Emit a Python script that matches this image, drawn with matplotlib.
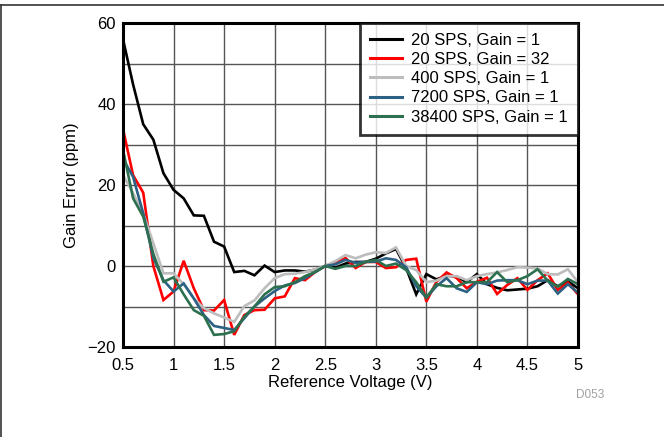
import numpy as np
import matplotlib
matplotlib.use("Agg")
import matplotlib.pyplot as plt
from matplotlib.lines import Line2D

plt.rcParams['font.family'] = ['Liberation Sans Narrow', 'Liberation Sans', 'DejaVu Sans']

voltage = [round(0.5 + 0.1 * i, 1) for i in range(46)]

sps20_g1 = [56.0, 44.8, 35.0, 31.2, 22.9, 18.8, 16.7, 12.5, 12.4, 6.0,
            4.8, -1.5, -1.2, -2.3, 0.1, -1.5, -1.1, -1.1, -1.4, -0.9,
            0.0, -0.4, 0.6, 1.0, 1.0, 1.8, 3.1, 4.2, -0.5, -7.0,
            -2.0, -3.3, -2.4, -2.6, -4.0, -2.0, -4.5, -5.4, -6.0, -5.8,
            -5.6, -5.0, -3.5, -5.0, -3.8, -5.5]
sps20_g32 = [33.8, 22.4, 18.1, 0.0, -8.4, -6.3, 1.3, -5.5, -10.9, -11.0,
             -8.4, -17.0, -12.1, -10.9, -10.8, -8.0, -7.5, -3.0, -3.5, -1.5,
             0.0, 1.0, 2.0, -0.5, 1.0, 1.0, -0.5, -0.3, 1.5, 1.8,
             -8.8, -3.9, -1.6, -3.0, -5.5, -3.9, -2.9, -6.9, -4.7, -3.0,
             -5.9, -3.5, -1.8, -5.9, -4.1, -7.0]
sps400_g1 = [22.5, 18.0, 13.0, 5.6, -1.8, -1.8, -4.5, -8.0, -10.4, -11.7,
             -12.7, -13.8, -9.9, -8.5, -5.5, -3.0, -2.0, -1.9, -1.5, -0.8,
             0.0, 1.2, 2.7, 1.9, 2.8, 3.4, 3.2, 4.6, 0.0, -1.0,
             -4.0, -3.6, -2.5, -2.5, -3.5, -2.5, -2.0, -1.6, -1.0, -0.3,
             -0.4, -0.6, -2.0, -2.1, -0.8, -4.0]
sps7200_g1 = [26.5, 22.0, 13.0, 2.0, -3.5, -6.3, -4.3, -8.0, -12.1, -14.8,
              -15.3, -15.8, -12.9, -10.0, -8.0, -6.2, -4.8, -4.2, -3.0, -1.5,
              0.0, 0.4, 1.5, 0.8, 1.0, 1.1, 1.9, 1.5, -0.3, -5.0,
              -7.8, -5.0, -3.0, -5.5, -6.4, -4.0, -4.5, -3.6, -3.5, -3.5,
              -4.5, -3.6, -3.6, -6.8, -4.5, -6.6]
sps38400_g1 = [28.7, 16.7, 12.2, 3.0, -3.9, -2.8, -7.0, -10.9, -12.3, -17.0,
               -16.8, -16.1, -12.5, -10.0, -7.0, -5.2, -5.0, -4.0, -2.5, -1.5,
               0.0, -0.7, 0.0, 0.0, 1.0, 1.5, 0.0, 0.6, -1.0, -4.0,
               -7.8, -4.5, -5.0, -5.0, -4.0, -4.0, -4.0, -1.5, -4.0, -3.5,
               -2.5, -0.8, -3.6, -5.1, -3.2, -4.5]

series = [
    ("20 SPS, Gain = 1", sps20_g1, "#000000"),
    ("20 SPS, Gain = 32", sps20_g32, "#FF0000"),
    ("400 SPS, Gain = 1", sps400_g1, "#BDBDBD"),
    ("7200 SPS, Gain = 1", sps7200_g1, "#2C6183"),
    ("38400 SPS, Gain = 1", sps38400_g1, "#2D7050"),
]

xticks = [0.5, 1, 1.5, 2, 2.5, 3, 3.5, 4, 4.5, 5]
xticklabels = ["0.5", "1", "1.5", "2", "2.5", "3", "3.5", "4", "4.5", "5"]
yticks = [-20, 0, 20, 40, 60]

fig = plt.figure(figsize=(6.64, 4.37), dpi=100)
ax = fig.add_axes([123 / 664, 1 - 347 / 437, (578 - 123) / 664, (347 - 23) / 437])

for label, vals, color in series:
    ax.plot(voltage, vals, color=color, lw=1.9, label=label, solid_joinstyle='miter')

ax.set_xlim(0.5, 5)
ax.set_ylim(-20, 60)
ax.set_xticks(xticks)
ax.set_xticklabels(xticklabels)
ax.set_yticks(yticks)
ax.set_yticks([-10, 10, 30, 50], minor=True)
ax.grid(True, which='major', color='#555555', lw=1.0)
ax.grid(True, which='minor', axis='y', color='#555555', lw=1.0)
ax.set_axisbelow(True)
ax.tick_params(which='both', length=0, labelsize=12, pad=5)
ax.tick_params(axis='x', pad=8)
for s in ax.spines.values():
    s.set_linewidth(2.2)
    s.set_color('black')

ax.set_xlabel("Reference Voltage (V)", fontsize=12, labelpad=1)
ax.set_ylabel("Gain Error (ppm)", fontsize=12, labelpad=6)

leg = ax.legend(loc='upper right', borderaxespad=0, fontsize=12, frameon=True,
                fancybox=False, handlelength=1.9, handletextpad=0.55,
                labelspacing=0.25, borderpad=0.6)
leg.get_frame().set_edgecolor('black')
leg.get_frame().set_linewidth(2.0)
for lh in leg.get_lines():
    lh.set_linewidth(2.2)

fig.text(590 / 664, 1 - 395 / 437, "D053", fontsize=8.5, color='#A0A0A0', ha='center', va='center')

fig.add_artist(Line2D([0, 1], [1 - 5 / 437, 1 - 5 / 437], color='#333333', lw=1.2, transform=fig.transFigure))
fig.add_artist(Line2D([0.5 / 664, 0.5 / 664], [0, 1 - 5 / 437], color='#333333', lw=1.2, transform=fig.transFigure))

fig.savefig("out.png", dpi=100)
